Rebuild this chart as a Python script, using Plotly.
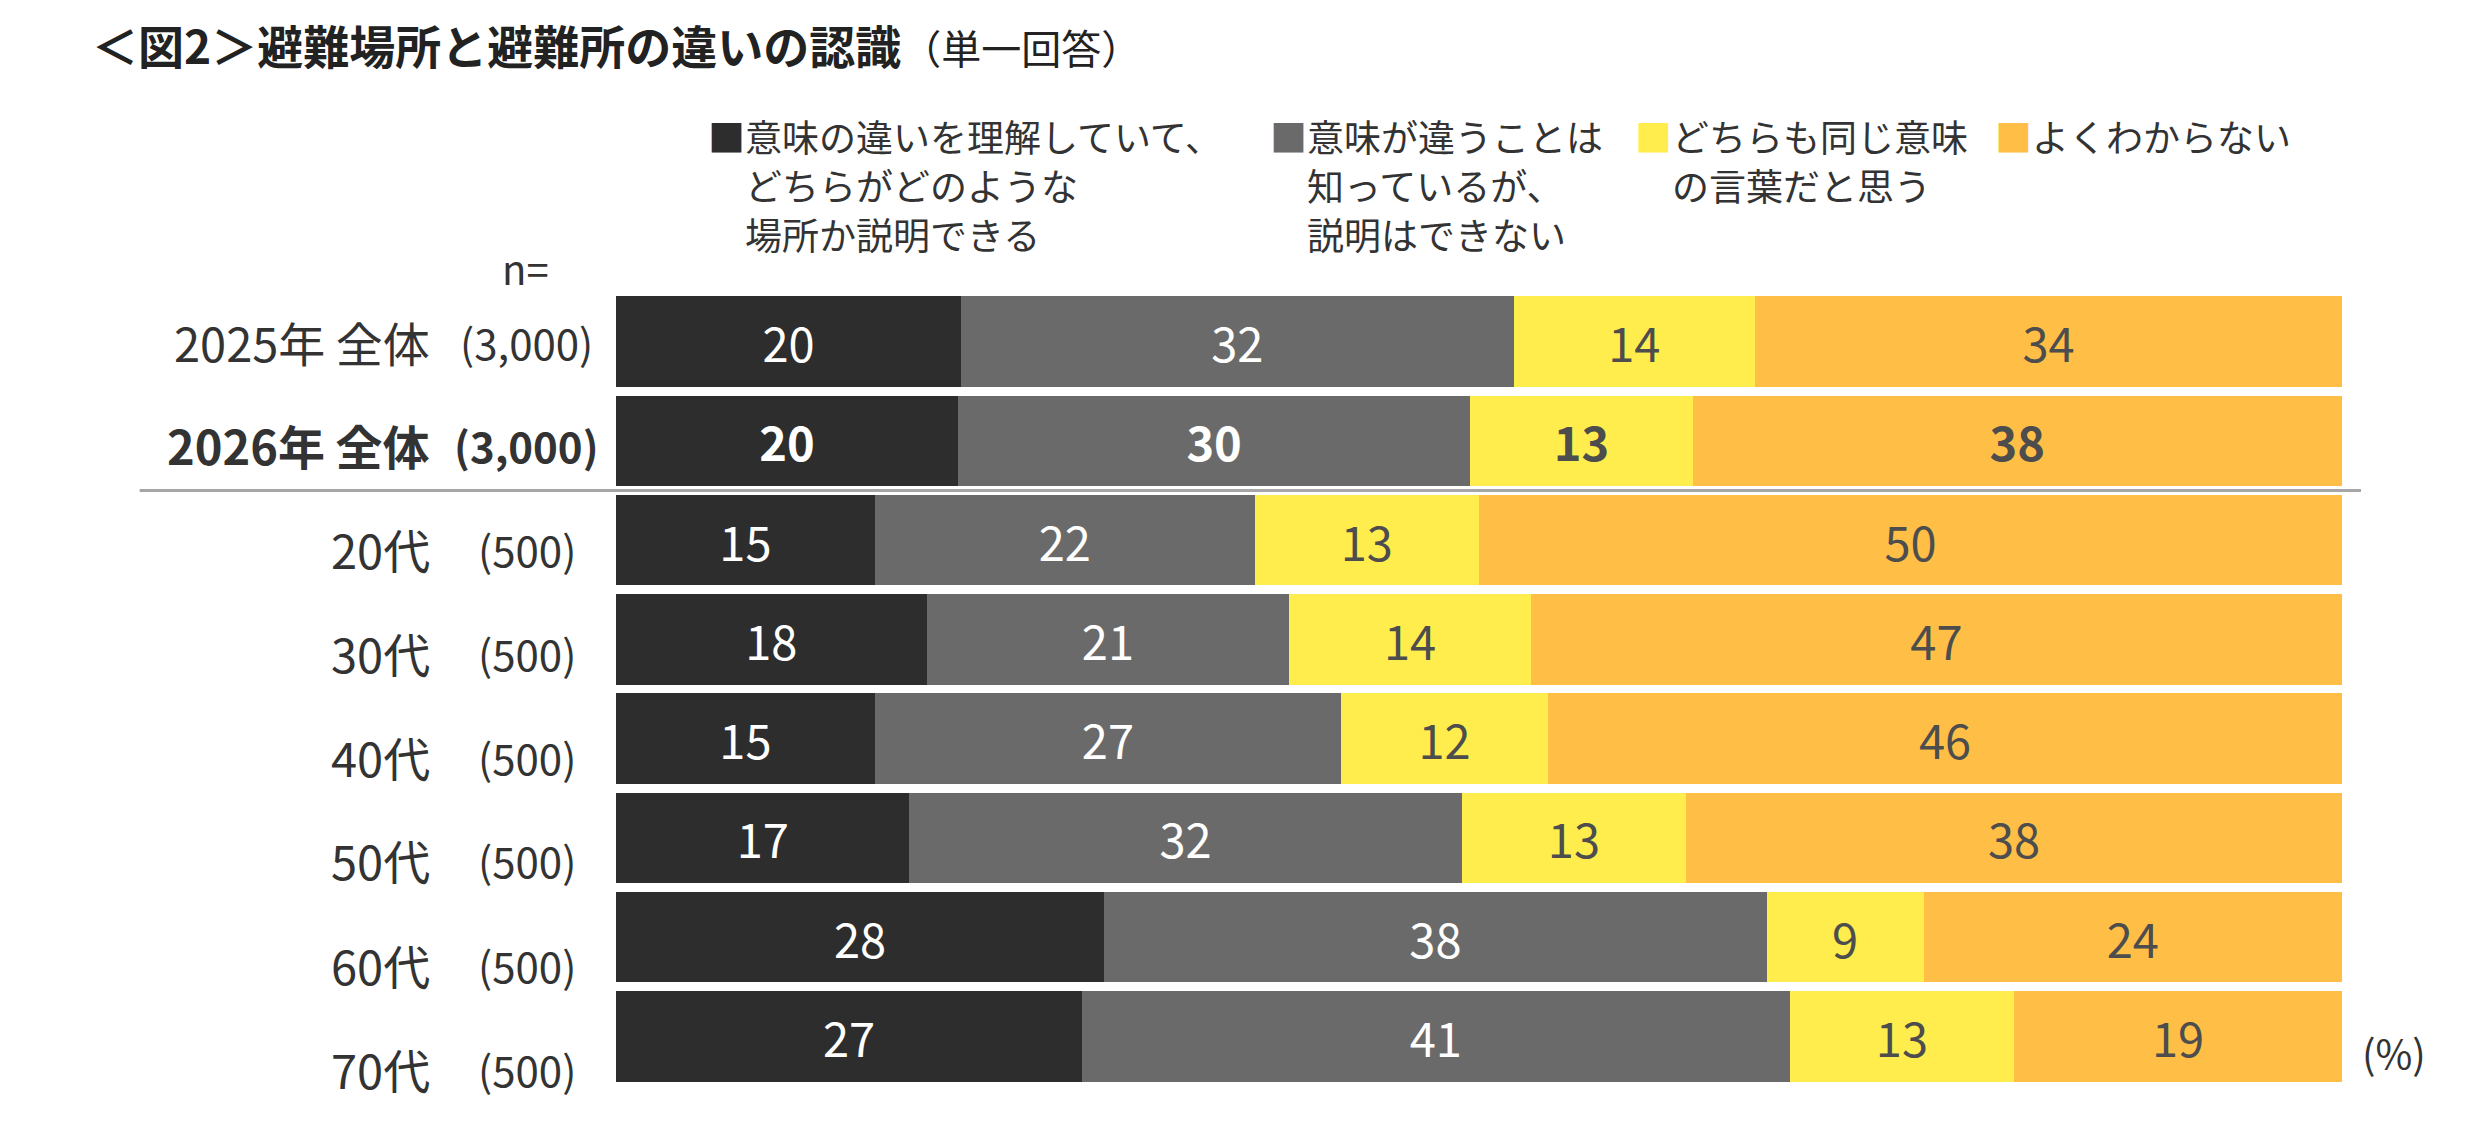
#避難場所と避難所の違いの認識（図2）
import plotly.graph_objects as go

# データ
rows = ['2025年 全体', '2026年 全体', '20代', '30代', '40代', '50代', '60代', '70代']
n_labels = ['(3,000)', '(3,000)', '(500)', '(500)', '(500)', '(500)', '(500)', '(500)']
highlight = '2026年 全体'

series = [
    '意味の違いを理解していて、<br>どちらがどのような<br>場所か説明できる',
    '意味が違うことは<br>知っているが、<br>説明はできない',
    'どちらも同じ意味<br>の言葉だと思う',
    'よくわからない',
]
understand = [20, 20, 15, 18, 15, 17, 28, 27]
know_diff = [32, 30, 22, 21, 27, 32, 38, 41]
same_word = [14, 13, 13, 14, 12, 13, 9, 13]
not_sure = [34, 38, 50, 47, 46, 38, 24, 19]

colors = ['#2d2d2d', '#6a6a6a', '#ffed4e', '#ffbf47']
text_colors = ['#ffffff', '#ffffff', '#4d4d4d', '#4d4d4d']

FONT = 'Noto Sans CJK JP'

# 生成画布（ページ余白8pxぶん小さく）
W, H = 2464, 1113
fig = go.Figure()

for name, vals, col, tcol in zip(series, [understand, know_diff, same_word, not_sure], colors, text_colors):
    txt = [f'<b>{v}</b>' if r == highlight else str(v) for r, v in zip(rows, vals)]
    fig.add_trace(go.Bar(
        y=rows,
        x=vals,
        name=name,
        orientation='h',
        marker=dict(color=col, line=dict(width=0)),
        text=txt,
        textposition='inside',
        insidetextanchor='middle',
        textangle=0,
        textfont=dict(family=FONT, size=47, color=tcol),
        showlegend=False,
    ))

# 行ラベル（少しずつ下にずれている）
shifts = [0, 4, 8, 13, 18, 22, 27, 32]
for r, n, s in zip(rows, n_labels, shifts):
    bold = r == highlight
    fig.add_annotation(
        x=-0.1066, xref='paper', y=r, yref='y', yshift=-s,
        text=f'<b>{r}</b>' if bold else r,
        xanchor='right', yanchor='middle', showarrow=False,
        font=dict(family=FONT, size=47, color='#333333'),
    )
    fig.add_annotation(
        x=-0.0516, xref='paper', y=r, yref='y', yshift=-s,
        text=f'<b>{n}</b>' if bold else n,
        xanchor='center', yanchor='middle', showarrow=False,
        font=dict(family=FONT, size=42, color='#333333'),
    )

fig.add_annotation(
    x=-0.0527, xref='paper', y=1.030, yref='paper',
    text='n=', xanchor='center', yanchor='middle', showarrow=False,
    font=dict(family=FONT, size=40, color='#333333'),
)
fig.add_annotation(
    x=1.030, xref='paper', y=rows[-1], yref='y', yshift=-16,
    text='(%)', xanchor='center', yanchor='middle', showarrow=False,
    font=dict(family=FONT, size=40, color='#333333'),
)

# 凡例（色付き■＋テキスト、行ごとに配置）
legend_x = [0.052, 0.3776, 0.589, 0.798]
for name, col, lx in zip(series, colors, legend_x):
    for i, ln in enumerate(name.split('<br>')):
        if i == 0:
            t = f'<span style="color:{col}">■</span>' + ln
        else:
            t = ln
        fig.add_annotation(
            x=lx, xref='paper', y=1.233, yref='paper',
            xshift=0 if i == 0 else 37, yshift=-49 * i,
            text=t, align='left', xanchor='left', yanchor='top', showarrow=False,
            font=dict(family=FONT, size=37, color='#333333'),
        )

# 区切り線
fig.add_shape(type='line', xref='paper', x0=-0.276, x1=1.011, yref='y', y0=1.5, y1=1.5,
              line=dict(color='#a6a6a6', width=3))

fig.update_layout(
    barmode='stack',
    barnorm='percent',
    bargap=0.09,
    width=W,
    height=H,
    margin=dict(l=608, r=130, t=284, b=35),
    paper_bgcolor='white',
    plot_bgcolor='white',
    font=dict(family=FONT, color='#333333'),
    title=dict(
        text='<b>＜図2＞避難場所と避難所の違いの認識</b><span style="font-size:40px">（単一回答）</span>',
        x=84 / W, xref='container', xanchor='left',
        y=1 - 40 / H, yref='container', yanchor='middle',
        font=dict(family=FONT, size=46, color='#222222'),
    ),
    xaxis=dict(visible=False, range=[0, 100]),
    yaxis=dict(autorange='reversed', showticklabels=False, showgrid=False, zeroline=False),
)

fig.write_html('out.html')
